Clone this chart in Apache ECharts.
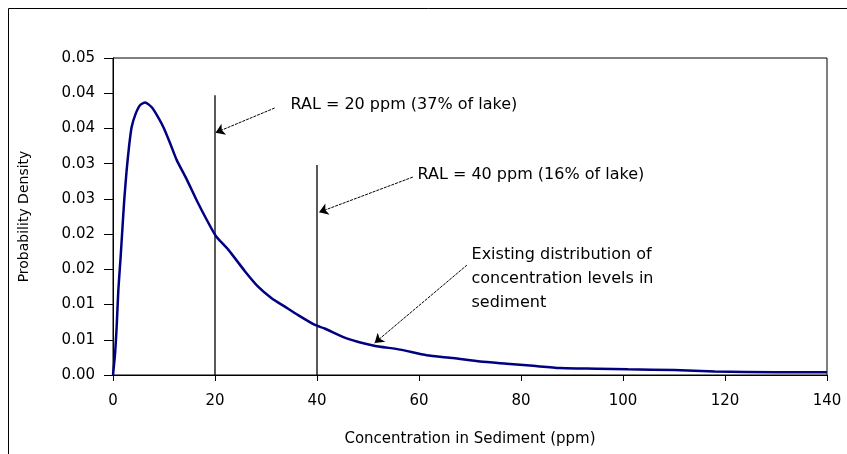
<!DOCTYPE html>
<html>
<head>
<meta charset="utf-8">
<script src="https://cdn.jsdelivr.net/npm/echarts@6/dist/echarts.min.js"></script>
<style>
  html, body { margin: 0; padding: 0; background: #fff; }
  #chart { width: 847px; height: 454px; }
</style>
</head>
<body>
<div id="chart"></div>
<script>
// 分布曲线
const curveX = [0, 0.4, 0.72, 1.05, 1.5, 1.83, 2.2, 2.68, 3.14, 3.66, 4.45, 5.3, 6.3, 7.6, 9.0, 10.0,
    11.2, 12.5, 14.5, 16.4, 18.4, 20.2, 22.6, 25.9, 28.5, 31.1, 33.7, 36.3, 39.6, 41.5, 45.8, 51,
    56.3, 61.5, 66.7, 72, 77.2, 82.4, 87.6, 95, 101, 110, 118, 130, 140];
const curveY = [0, 0.003, 0.0069, 0.0121, 0.0168, 0.0206, 0.0248, 0.0291, 0.0324, 0.0352, 0.0371,
    0.0383, 0.0387, 0.038, 0.0364, 0.035, 0.0329, 0.0305, 0.0277, 0.0248, 0.022, 0.0197, 0.0178,
    0.0147, 0.0125, 0.0109, 0.0097, 0.0085, 0.0071, 0.0066, 0.0052, 0.0042, 0.0036, 0.0028, 0.0024,
    0.0019, 0.0016, 0.0013, 0.001, 0.0009, 0.0008, 0.0007, 0.0005, 0.0004, 0.0004];

// RAL 竖线
const ralX = [20, 40];
const ralTop = [0.0397, 0.0298];

// 注释箭头（起点 -> 终点，数据坐标）
const arrows = [
    [[31.7, 0.0379], [20.1, 0.0344]],
    [[58.8, 0.0281], [40.4, 0.0231]],
    [[69.4, 0.0156], [51.3, 0.00454]],
];

// 注释文字
const noteText = [
    ['RAL = 20 ppm (37% of lake)'],
    ['RAL = 40 ppm (16% of lake)'],
    ['Existing distribution of', 'concentration levels in', 'sediment'],
];
const noteAnchor = [[34.8, 0.0383], [59.7, 0.0284], [70.3, 0.01703]];

const FONT = 'DejaVu Sans';

const chart = echarts.init(document.getElementById('chart'));

const fmtY = (v) => (Math.round(v * 100 + 1e-6) / 100).toFixed(2);

const series = [
    {
        type: 'line',
        data: curveX.map((x, i) => [x, curveY[i]]),
        showSymbol: false,
        smooth: 0.2,
        lineStyle: { color: '#000080', width: 2.5 },
        z: 5,
    },
];

ralX.forEach((x, i) => {
    series.push({
        type: 'line',
        data: [[x, 0], [x, ralTop[i]]],
        showSymbol: false,
        lineStyle: { color: '#000', width: 1.3 },
        z: 3,
    });
});

series.push({
    type: 'lines',
    coordinateSystem: 'cartesian2d',
    symbol: ['none', 'arrow'],
    symbolSize: 9,
    lineStyle: { color: '#000', width: 1, type: [3, 1], opacity: 1 },
    data: arrows.map((a) => ({ coords: a })),
    z: 6,
});

chart.setOption({
    animation: false,
    backgroundColor: '#fff',
    grid: {
        left: 113, top: 58, right: 20, bottom: 79,
        show: true, borderColor: '#000', borderWidth: 1,
    },
    xAxis: {
        type: 'value',
        min: 0, max: 140, interval: 20,
        name: 'Concentration in Sediment (ppm)',
        nameLocation: 'middle',
        nameGap: 57,
        nameTextStyle: { fontFamily: FONT, fontSize: 15, color: '#000' },
        axisLine: { lineStyle: { color: '#000', width: 1 } },
        axisTick: { show: true, length: 6, lineStyle: { color: '#000' } },
        axisLabel: { fontFamily: FONT, fontSize: 15, color: '#000', margin: 19 },
        splitLine: { show: false },
    },
    yAxis: {
        type: 'value',
        min: 0, max: 0.045, interval: 0.005,
        name: 'Probability Density',
        nameLocation: 'middle',
        nameGap: 82,
        nameTextStyle: { fontFamily: FONT, fontSize: 14, color: '#000' },
        axisLine: { show: true, lineStyle: { color: '#000', width: 1 } },
        axisTick: { show: true, length: 9, lineStyle: { color: '#000' } },
        axisLabel: { fontFamily: FONT, fontSize: 15, color: '#000', margin: 18, formatter: fmtY },
        splitLine: { show: false },
    },
    series: series,
});

// 外框和注释文字
const graphic = [
    {
        type: 'rect',
        shape: { x: 8.5, y: 8.5, width: 900, height: 500 },
        style: { fill: 'none', stroke: '#000', lineWidth: 1 },
        silent: true,
    },
];
noteText.forEach((lines, i) => {
    const p = chart.convertToPixel({ gridIndex: 0 }, noteAnchor[i]);
    lines.forEach((t, j) => {
        graphic.push({
            type: 'text',
            x: p[0],
            y: p[1] + j * 24,
            style: {
                text: t,
                font: '16px "' + FONT + '"',
                fill: '#000',
                textVerticalAlign: 'middle',
                textAlign: 'left',
            },
            z: 10,
        });
    });
});
chart.setOption({ graphic: graphic });
</script>
</body>
</html>
